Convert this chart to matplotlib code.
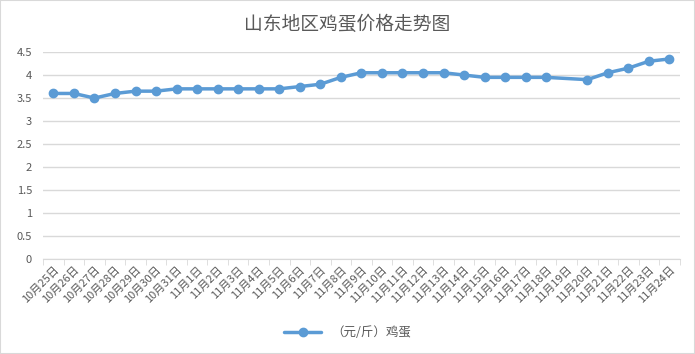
import numpy as np
import matplotlib.pyplot as plt

plt.rcParams['font.family'] = ['Noto Sans CJK SC', 'DejaVu Sans']

dates = ["10月25日", "10月26日", "10月27日", "10月28日", "10月29日", "10月30日",
         "10月31日", "11月1日", "11月2日", "11月3日", "11月4日", "11月5日",
         "11月6日", "11月7日", "11月8日", "11月9日", "11月10日", "11月11日",
         "11月12日", "11月13日", "11月14日", "11月15日", "11月16日", "11月17日",
         "11月18日", "11月19日", "11月20日", "11月21日", "11月22日", "11月23日",
         "11月24日"]
# 11月19日 has no value (line jumps over it)
prices = [3.6, 3.6, 3.5, 3.6, 3.65, 3.65, 3.7, 3.7, 3.7, 3.7, 3.7, 3.7,
          3.75, 3.8, 3.95, 4.05, 4.05, 4.05, 4.05, 4.05, 4.0, 3.95, 3.95, 3.95,
          3.95, None, 3.9, 4.05, 4.15, 4.3, 4.35]
series_name = "（元/斤）鸡蛋"

grey = "#595959"
blue = "#5B9BD5"

fig = plt.figure(figsize=(6.95, 3.54), dpi=100)
ax = fig.add_axes([0.062, 0.268, 0.916, 0.585])

xs = [i for i, v in enumerate(prices) if v is not None]
ys = [v for v in prices if v is not None]
ax.plot(xs, ys, color=blue, linewidth=2.5, marker="o", markersize=6,
        label=series_name, solid_capstyle="round")

ax.set_xlim(-0.5, len(dates) - 0.5)
ax.set_ylim(0, 4.5)
ax.set_yticks(np.arange(0, 4.51, 0.5))
ax.set_yticklabels(["0", "0.5", "1", "1.5", "2", "2.5", "3", "3.5", "4", "4.5"])
ax.yaxis.grid(True, color="#D9D9D9", linewidth=1)
ax.set_axisbelow(True)

ax.set_xticks(np.arange(len(dates)))
ax.set_xticklabels(dates, rotation=45, ha="right", rotation_mode="anchor")
ax.set_xticks(np.arange(len(dates) + 1) - 0.5, minor=True)
ax.tick_params(axis="x", which="major", length=0, pad=4, labelsize=8, colors=grey)
ax.tick_params(axis="x", which="minor", length=4, color="#D9D9D9")
ax.tick_params(axis="y", length=0, labelsize=8, colors=grey, pad=8)

for s in ["top", "right", "left"]:
    ax.spines[s].set_visible(False)
ax.spines["bottom"].set_color("#D9D9D9")

fig.text(0.5, 0.932, "山东地区鸡蛋价格走势图", ha="center", va="center",
         fontsize=13.5, color=grey)
fig.legend(loc="center", bbox_to_anchor=(0.5, 0.06), frameon=False,
           fontsize=9, labelcolor=grey, handlelength=3)

fig.patches.append(plt.Rectangle((0, 0), 1, 1, transform=fig.transFigure,
                                 fill=False, edgecolor="#D9D9D9", linewidth=1.5))

fig.savefig("out.png", dpi=100)
